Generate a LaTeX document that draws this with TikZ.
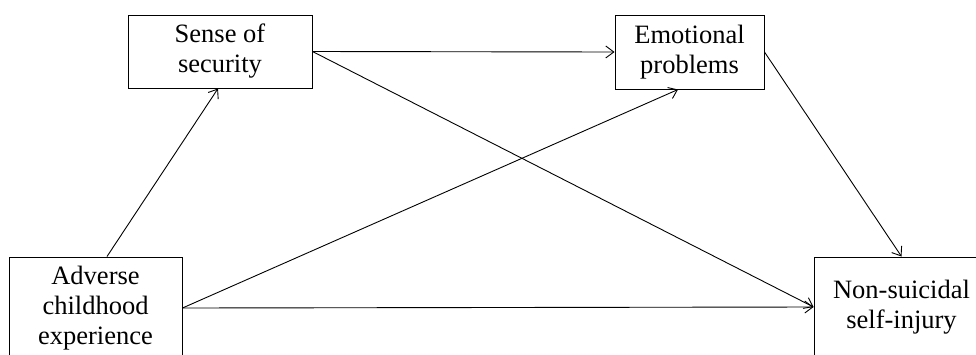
\documentclass[tikz,border=0pt]{standalone}
\usepackage{fontspec}
\setmainfont{Liberation Serif}
\usetikzlibrary{arrows.meta}
\begin{document}
\begin{tikzpicture}[x=1pt,y=-1pt,
  box/.style={draw=black, line width=1pt, align=center, inner sep=0pt,
    font=\fontsize{26.5}{30}\selectfont},
  link/.style={line width=0.9pt, -{Straight Barb[length=8pt,width=12pt,line width=0.9pt]}}]
  \useasboundingbox (0,0) rectangle (976,354);
  \fill[white] (0,0) rectangle (976,354);
  \clip (0,0) rectangle (976,354);

  % variables of the mediation model
  \node[box, minimum width=184pt, minimum height=73pt] (S) at (220,51.5) {Sense of\\security};
  \node[box, minimum width=149pt, minimum height=74pt] (E) at (689.5,52) {Emotional\\problems};
  \node[box, minimum width=173pt, minimum height=102pt] (A) at (95.5,308) {Adverse\\childhood\\experience};
  \node[box, minimum width=175pt, minimum height=100pt] (N) at (901.5,307) {Non-suicidal\\self-injury};

  % paths
  \draw[link] ([xshift=11.5pt]A.north) -- ([xshift=-2pt]S.south);
  \draw[link] (S.east) -- (E.west);
  \draw[link] (S.east) -- (N.west);
  \draw[link] (A.east) -- ([xshift=-11.5pt]E.south);
  \draw[link] (A.east) -- (N.west);
  \draw[link] (E.east) -- (N.north);
\end{tikzpicture}
\end{document}
